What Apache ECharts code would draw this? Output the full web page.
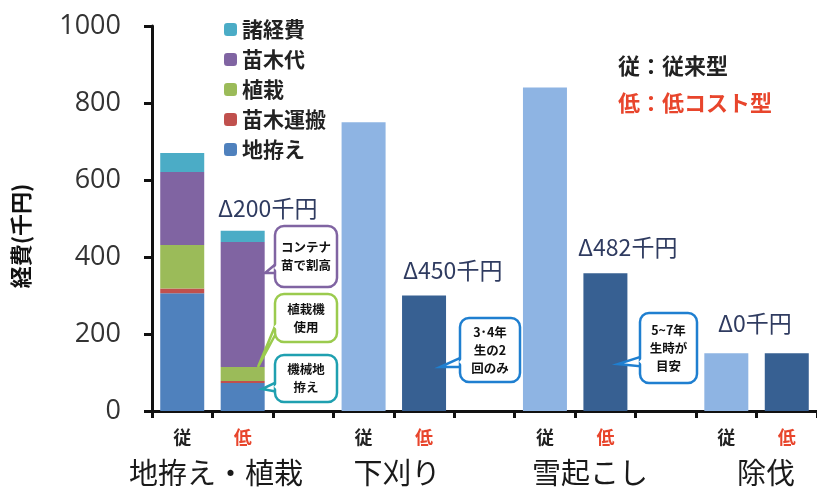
<!DOCTYPE html>
<html><head><meta charset="utf-8">
<script src="https://cdn.jsdelivr.net/npm/echarts@6/dist/echarts.min.js"></script>
<style>html,body{margin:0;padding:0;background:#fff}#c{width:817px;height:491px}</style>
</head><body><div id="c"></div>
<script>
// categories (11 slots: 従/低 per group with gaps)
const slots = ['地拵え・植栽|従','地拵え・植栽|低','gap1|','下刈り|従','下刈り|低','gap2|','雪起こし|従','雪起こし|低','gap3|','除伐|従','除伐|低'];
const groupNames = ['地拵え・植栽','下刈り','雪起こし','除伐'];
// stacked components for 地拵え・植栽 (従, 低)
const jigoshirae = [306, 73];
const naegiUnpan = [12, 5];
const shokusai   = [113, 36];
const naegiDai   = [190, 325];
const shokeihi   = [49, 29];
// single bars for other works
const shitagari = [750, 300];
const yukiokoshi = [840, 358];
const jobatsu = [150, 150];
// annotations
const deltas = ['Δ200千円','Δ450千円','Δ482千円','Δ0千円'];
const yTicks = [0,200,400,600,800,1000];

const FONT = 'Noto Sans CJK JP, Noto Sans, sans-serif';
const cLight = '#8EB4E3', cDark = '#376092';

function stackData(arr){ const d = new Array(11).fill(null); d[0]=arr[0]; d[1]=arr[1]; return d; }
const single = new Array(11).fill(null);
[[3,shitagari],[6,yukiokoshi],[9,jobatsu]].forEach(([i,a])=>{
  single[i] = {value:a[0], itemStyle:{color:cLight}};
  single[i+1] = {value:a[1], itemStyle:{color:cDark}};
});

const chart = echarts.init(document.getElementById('c'));
const barW = 44;
function comp(name, arr, color){
  return {name, type:'bar', stack:'s', data:stackData(arr), barWidth:barW, itemStyle:{color}};
}

function callout(x,y,w,h,px,py,color,text){
  const cy = y + h*0.72;
  return {type:'group', children:[
    {type:'polygon', shape:{points:[[x+2,cy-7],[px,py],[x+2,cy+3]]}, style:{fill:'#fff', stroke:color, lineWidth:2.5}, z:10},
    {type:'rect', shape:{x,y,width:w,height:h,r:9}, style:{fill:'#fff', stroke:color, lineWidth:2.5}, z:11},
    {type:'polygon', shape:{points:[[x+3,cy-6],[x+3,cy+2],[x-1,cy-2]]}, style:{fill:'#fff'}, z:12},
    {type:'text', x:x+w/2, y:y+h/2, style:{text, font:'bold 12.5px '+FONT, fill:'#111', align:'center', verticalAlign:'middle', lineHeight:18}, z:13}
  ]};
}
function dtext(x,y,text){
  return {type:'text', x, y, style:{text, font:'23px '+FONT, fill:'#2F3B60', align:'left', verticalAlign:'middle'}};
}
function gtext(cx,text){
  return {type:'text', x:cx, y:473, style:{text, font:'29px '+FONT, fill:'#1a1a1a', align:'center', verticalAlign:'middle'}};
}

const option = {
  animation:false,
  grid:{left:152, right:0, top:26, bottom:80},
  legend:{
    data:['諸経費','苗木代','植栽','苗木運搬','地拵え'],
    orient:'vertical', left:219, top:14, itemWidth:13, itemHeight:13, itemGap:9,
    textStyle:{fontSize:21, fontWeight:'bold', color:'#222', fontFamily:FONT}
  },
  xAxis:{
    type:'category', data:slots,
    axisLine:{show:true, lineStyle:{color:'#111', width:3}},
    axisTick:{show:true, length:7, lineStyle:{color:'#111', width:3}},
    axisLabel:{
      interval:0, margin:17,
      formatter:v=>{const s=v.split('|')[1]; return s==='従'?'{a|従}':(s==='低'?'{b|低}':'');},
      rich:{a:{fontSize:18, fontWeight:'bold', color:'#222', fontFamily:FONT}, b:{fontSize:18, fontWeight:'bold', color:'#E8452C', fontFamily:FONT}}
    }
  },
  yAxis:{
    type:'value', min:0, max:1000, interval:200,
    axisLine:{show:true, lineStyle:{color:'#111', width:3}},
    axisTick:{show:true, length:8, lineStyle:{color:'#111', width:3}},
    splitLine:{show:false},
    axisLabel:{fontSize:27, color:'#333', margin:31, fontFamily:'Open Sans, Noto Sans, sans-serif',
      formatter:v=>yTicks.includes(v)?String(v):''}
  },
  series:[
    comp('地拵え', jigoshirae, '#4F81BD'),
    comp('苗木運搬', naegiUnpan, '#C0504D'),
    comp('植栽', shokusai, '#9BBB59'),
    comp('苗木代', naegiDai, '#8064A2'),
    comp('諸経費', shokeihi, '#4BACC6'),
    {name:'single', type:'bar', stack:'s', data:single, barWidth:barW}
  ],
  graphic:[
    {type:'text', x:21, y:236, rotation:Math.PI/2, style:{text:'経費(千円)', font:'bold 22px '+FONT, fill:'#111', align:'center', verticalAlign:'middle'}},
    {type:'text', x:618, y:66, style:{text:'従：従来型', font:'bold 22px '+FONT, fill:'#222', verticalAlign:'middle'}},
    {type:'text', x:618, y:103, style:{text:'低：低コスト型', font:'bold 22px '+FONT, fill:'#E8452C', verticalAlign:'middle'}},
    dtext(218,208,deltas[0]),
    dtext(403,270,deltas[1]),
    dtext(578,247,deltas[2]),
    dtext(718,323,deltas[3]),
    gtext(216,groupNames[0]),
    gtext(397,groupNames[1]),
    gtext(590,groupNames[2]),
    gtext(766,groupNames[3]),
    callout(275,226,62,61,265,273,'#8064A2','コンテナ\n苗で割高'),
    callout(275,294,62,48,258,367,'#9BCB4E','植栽機\n使用'),
    callout(275,355,62,47,262,389,'#1FA0B0','機械地\n拵え'),
    callout(460,318,60,64,440,367,'#1F7FD0','3･4年\n生の2\n回のみ'),
    callout(640,313,57,70,618,364,'#1F7FD0','5~7年\n生時が\n目安')
  ]
};
chart.setOption(option);
</script></body></html>
